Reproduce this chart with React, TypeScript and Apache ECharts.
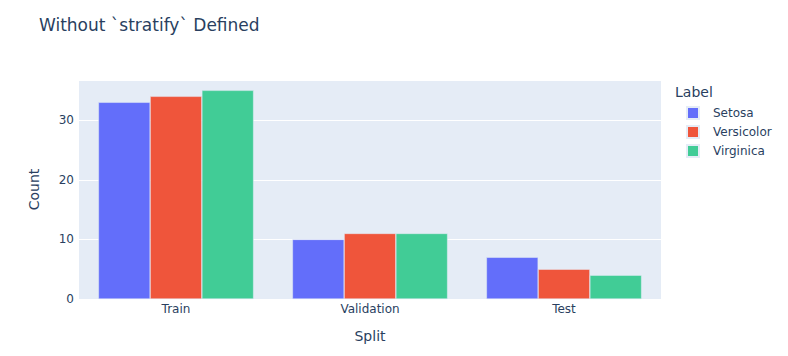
import React, { useEffect, useRef } from "react";
import * as echarts from "echarts";

const categories = ["Train", "Validation", "Test"];
const seriesNames = ["Setosa", "Versicolor", "Virginica"];
const setosa = [33, 10, 7];
const versicolor = [34, 11, 5];
const virginica = [35, 11, 4];
const colors = ["#636efa", "#EF553B", "#41cc96"];
const yTicks = [0, 10, 20, 30];

const FONT = '"DejaVu Sans", Verdana, sans-serif';
const TXT = "#2a3f5f";

export default function App() {
  const ref = useRef<HTMLDivElement>(null);
  useEffect(() => {
    if (!ref.current) return;
    const chart = echarts.init(ref.current, undefined, { renderer: "svg" });
    const values = [setosa, versicolor, virginica];
    chart.setOption({
      animation: false,
      textStyle: { fontFamily: FONT },
      title: {
        text: "Without `stratify` Defined",
        left: 34,
        top: 11,
        textStyle: { fontFamily: FONT, fontSize: 17, fontWeight: "normal", color: TXT },
      },
      legend: {
        orient: "vertical",
        left: 686,
        top: 106,
        padding: 0,
        icon: "rect",
        itemWidth: 12,
        itemHeight: 12,
        itemGap: 5,
        data: seriesNames,
        textStyle: { fontFamily: FONT, fontSize: 12, lineHeight: 12, color: TXT, padding: [0, 0, 0, 9] },
      },
      graphic: [
        {
          type: "text",
          left: 675,
          top: 85,
          style: { text: "Label", fontFamily: FONT, fontSize: 14, fill: TXT },
        },
      ],
      grid: {
        left: 79,
        top: 80,
        width: 582,
        height: 219,
        show: true,
        backgroundColor: "#E5ECF6",
        borderWidth: 0,
      },
      xAxis: {
        type: "category",
        data: categories,
        axisLine: { show: false },
        axisTick: { show: false },
        axisLabel: { margin: 4, fontSize: 12, color: TXT, fontFamily: FONT },
        name: "Split",
        nameLocation: "middle",
        nameGap: 30,
        nameTextStyle: { fontSize: 14, color: TXT, fontFamily: FONT },
      },
      yAxis: {
        type: "value",
        min: 0,
        max: 36.74,
        interval: 10,
        axisLine: { show: false },
        axisTick: { show: false },
        splitLine: { lineStyle: { color: "#ffffff", width: 1 } },
        axisLabel: {
          margin: 5,
          fontSize: 12,
          color: TXT,
          fontFamily: FONT,
          showMaxLabel: false,
          formatter: (v: number) => (yTicks.includes(v) ? String(v) : ""),
        },
        name: "Count",
        nameLocation: "middle",
        nameGap: 38,
        nameTextStyle: { fontSize: 14, color: TXT, fontFamily: FONT },
      },
      series: seriesNames.map((n, i) => ({
        name: n,
        type: "bar",
        data: values[i],
        barGap: "0%",
        barCategoryGap: "20%",
        itemStyle: { color: colors[i], borderColor: "#E5ECF6", borderWidth: 0.5 },
      })),
    });
    return () => chart.dispose();
  }, []);
  return <div ref={ref} style={{ width: 788, height: 356, position: "absolute", left: 0, top: 0 }} />;
}
